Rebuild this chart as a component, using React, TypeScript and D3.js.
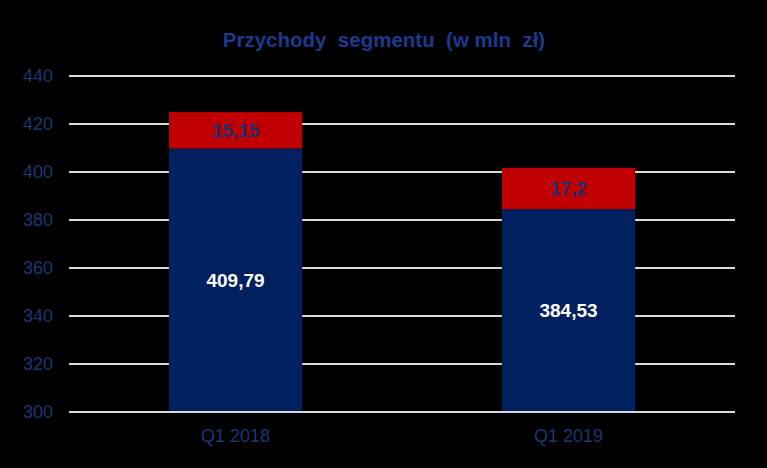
import React from "react";
import * as d3 from "d3";

const categories = ["Q1 2018", "Q1 2019"];
const baseValues = [409.79, 384.53];
const topValues = [15.15, 17.2];
const baseLabels = ["409,79", "384,53"];
const topLabels = ["15,15", "17,2"];
const yTicks = [300, 320, 340, 360, 380, 400, 420, 440];

export default function App() {
  const W = 767, H = 468;
  const left = 69, right = 735, top = 76, bottom = 412;
  const x = d3.scaleBand().domain(categories).range([left, right]).paddingInner(0.6).paddingOuter(0.3);
  const y = d3.scaleLinear().domain([300, 440]).range([bottom, top]);
  const font = "Arial, 'Liberation Sans', sans-serif";
  const navy = "#002060";
  const red = "#c00000";
  const axisColor = "#1d3675";
  return (
    <svg width={W} height={H} style={{ position: "absolute", left: 0, top: 0, background: "#000" }}>
      <rect x={0} y={0} width={W} height={H} fill="#000" />
      <text x={384} y={47} textAnchor="middle" fontFamily={font} fontWeight="bold" fontSize={20.5} fill="#1b3a92" style={{ whiteSpace: "pre" }}>
        Przychody  segmentu  (w mln  zł)
      </text>
      {yTicks.map((t) => (
        <g key={t}>
          <line x1={left} x2={right} y1={y(t)} y2={y(t)} stroke="#d9d9d9" strokeWidth={2} />
          <text x={53} y={y(t)} dy="0.35em" textAnchor="end" fontFamily={font} fontSize={18} fill={axisColor}>
            {t}
          </text>
        </g>
      ))}
      {categories.map((c, i) => {
        const bx = x(c)!;
        const bw = x.bandwidth();
        const yBase = y(baseValues[i]);
        const yTop = y(baseValues[i] + topValues[i]);
        return (
          <g key={c}>
            <rect x={bx} y={yBase} width={bw} height={bottom - yBase} fill={navy} />
            <rect x={bx} y={yTop} width={bw} height={yBase - yTop} fill={red} />
            <text x={bx + bw / 2} y={(yBase + bottom) / 2} dy="0.35em" textAnchor="middle" fontFamily={font} fontWeight="bold" fontSize={19} fill="#ffffff">
              {baseLabels[i]}
            </text>
            <text x={bx + bw / 2} y={(yTop + yBase) / 2} dy="0.35em" textAnchor="middle" fontFamily={font} fontWeight="bold" fontSize={19} fill="#1f2f6e">
              {topLabels[i]}
            </text>
            <text x={bx + bw / 2} y={436} dy="0.35em" textAnchor="middle" fontFamily={font} fontSize={18} fill={axisColor}>
              {c}
            </text>
          </g>
        );
      })}
      <line x1={left} x2={right} y1={bottom} y2={bottom} stroke="#d9d9d9" strokeWidth={2} />
    </svg>
  );
}
